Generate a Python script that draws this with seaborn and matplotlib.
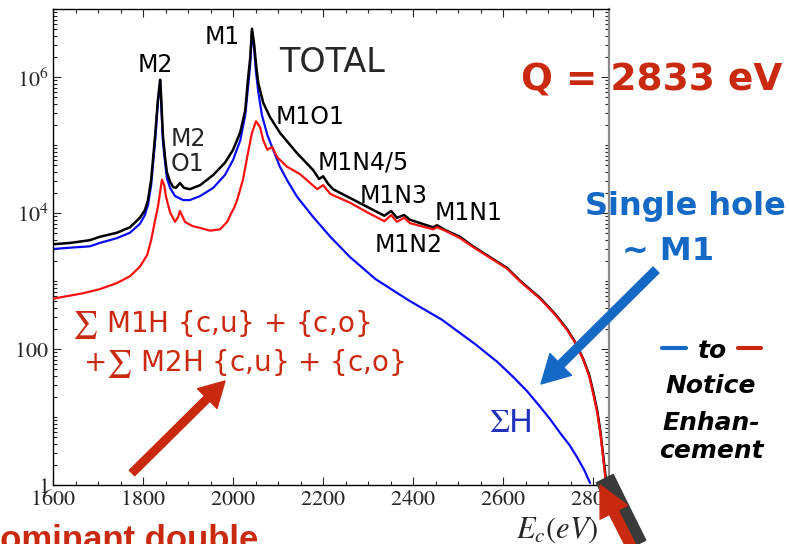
import numpy as np
import matplotlib
matplotlib.use("Agg")
import matplotlib.pyplot as plt
from matplotlib.lines import Line2D
from matplotlib.patches import FancyArrowPatch
from matplotlib.ticker import FixedLocator, FixedFormatter, MultipleLocator, LogLocator, NullFormatter
import seaborn as sns

# ---- spectrum data: E_c in eV, intensity as log10(counts) ----
energy_total = [1600, 1638, 1682, 1704, 1742, 1771, 1793, 1804, 1811, 1818, 1822, 1827, 1831, 1833,
                1836, 1838, 1840, 1842, 1844, 1849, 1853, 1860, 1867, 1873, 1882, 1891, 1904, 1927,
                1956, 1982, 2000, 2016, 2027, 2033, 2038, 2042, 2047, 2051, 2056, 2067, 2082, 2104,
                2142, 2178, 2191, 2200, 2211, 2222, 2260, 2298, 2336, 2351, 2364, 2380, 2393, 2416,
                2444, 2453, 2471, 2504, 2533, 2571, 2609, 2638, 2682, 2716, 2742, 2760, 2778, 2791,
                2800, 2809, 2816, 2822, 2827, 2831]
total_log10 = [3.54, 3.56, 3.60, 3.65, 3.71, 3.79, 3.93, 4.04, 4.19, 4.49, 4.78, 5.15, 5.49, 5.66,
               5.84, 5.96, 5.74, 5.44, 5.15, 4.81, 4.60, 4.46, 4.38, 4.37, 4.44, 4.37, 4.35, 4.41,
               4.56, 4.74, 4.93, 5.19, 5.51, 5.96, 6.28, 6.71, 6.47, 6.18, 5.91, 5.62, 5.41, 5.18,
               4.88, 4.63, 4.50, 4.54, 4.43, 4.35, 4.22, 4.09, 3.96, 4.03, 3.93, 3.97, 3.90, 3.85,
               3.79, 3.82, 3.75, 3.65, 3.51, 3.35, 3.19, 3.00, 2.75, 2.51, 2.29, 2.10, 1.85, 1.62,
               1.37, 1.09, 0.78, 0.44, 0.15, 0.00]

energy_single = [1600, 1638, 1682, 1704, 1742, 1771, 1793, 1804, 1811, 1818, 1822, 1827, 1831, 1833,
                 1836, 1838, 1840, 1842, 1844, 1849, 1853, 1860, 1871, 1889, 1904, 1927, 1956, 1982,
                 2000, 2016, 2027, 2033, 2038, 2042, 2047, 2051, 2056, 2064, 2076, 2089, 2104, 2122,
                 2142, 2178, 2216, 2260, 2316, 2389, 2464, 2538, 2587, 2622, 2653, 2682, 2704, 2727,
                 2747, 2764, 2780, 2793]
single_log10 = [3.47, 3.49, 3.51, 3.56, 3.63, 3.71, 3.84, 3.97, 4.12, 4.41, 4.71, 5.07, 5.44, 5.63,
                5.81, 5.93, 5.66, 5.37, 5.07, 4.74, 4.51, 4.37, 4.25, 4.19, 4.19, 4.25, 4.37, 4.56,
                4.78, 5.07, 5.44, 5.84, 6.18, 6.68, 6.40, 6.07, 5.78, 5.44, 5.15, 4.93, 4.68, 4.46,
                4.24, 3.94, 3.65, 3.35, 3.03, 2.72, 2.43, 2.07, 1.81, 1.59, 1.38, 1.15, 0.97, 0.76,
                0.59, 0.41, 0.22, 0.03]

energy_double = [1600, 1667, 1704, 1742, 1771, 1793, 1809, 1818, 1827, 1833, 1838, 1842, 1847, 1851,
                 1860, 1871, 1878, 1882, 1887, 1893, 1909, 1927, 1949, 1971, 1987, 1996, 2002, 2009,
                 2022, 2033, 2042, 2051, 2060, 2067, 2076, 2087, 2098, 2120, 2149, 2187, 2200, 2216,
                 2260, 2298, 2336, 2351, 2364, 2380, 2393, 2416, 2444, 2453, 2471, 2504, 2533, 2571,
                 2609, 2638, 2682, 2716, 2742, 2760, 2778, 2791, 2800, 2809, 2816, 2822, 2827, 2831]
double_log10 = [2.74, 2.82, 2.88, 2.97, 3.07, 3.21, 3.38, 3.60, 3.90, 4.09, 4.31, 4.49, 4.41, 4.24,
                4.01, 3.87, 3.94, 4.03, 3.96, 3.87, 3.81, 3.78, 3.74, 3.76, 3.87, 4.00, 4.07, 4.19,
                4.49, 4.88, 5.18, 5.35, 5.26, 5.07, 4.93, 4.97, 4.82, 4.68, 4.57, 4.35, 4.41, 4.28,
                4.15, 4.01, 3.88, 3.97, 3.87, 3.93, 3.85, 3.81, 3.76, 3.79, 3.74, 3.63, 3.50, 3.34,
                3.18, 2.99, 2.74, 2.50, 2.28, 2.09, 1.84, 1.60, 1.34, 1.06, 0.75, 0.40, 0.10, 0.00]

x_ticks = [1600, 1800, 2000, 2200, 2400, 2600, 2800]
x_tick_labels = ["$1600$", "$1800$", "$2000$", "$2200$", "$2400$", "$2600$", "$2800$"]
y_ticks = [1, 100, 1e4, 1e6]
y_tick_labels = ["$1$", "$100$", "$10^4$", "$10^6$"]

W, H = 789, 544
RED_TXT = "#c8290f"
BLUE_TXT = "#1469c4"

sns.set_style("ticks")
plt.rcParams["mathtext.fontset"] = "stix"
plt.rcParams["font.family"] = ["DejaVu Sans"]

fig = plt.figure(figsize=(W / 100, H / 100), dpi=100)
ax = fig.add_axes([53 / W, 1 - 485 / H, (609 - 53) / W, (485 - 9) / H])


def fp(px, py):
    """pixel position (top-left origin) -> figure fraction"""
    return px / W, 1 - py / H


sns.lineplot(x=energy_single, y=10 ** np.asarray(single_log10), ax=ax, color="#0a0aff", lw=1.6,
             zorder=2)
sns.lineplot(x=energy_total, y=10 ** np.asarray(total_log10), ax=ax, color="black", lw=1.8,
             zorder=3)
sns.lineplot(x=energy_double, y=10 ** np.asarray(double_log10), ax=ax, color="#ff1010", lw=1.6,
             zorder=4)

ax.set_yscale("log")
ax.set_xlim(1600, 2835)
ax.set_ylim(1, 1e7)

ax.xaxis.set_major_locator(FixedLocator(x_ticks))
ax.xaxis.set_major_formatter(FixedFormatter(x_tick_labels))
ax.xaxis.set_minor_locator(MultipleLocator(50))
ax.yaxis.set_major_locator(FixedLocator(y_ticks))
ax.yaxis.set_major_formatter(FixedFormatter(y_tick_labels))
ax.yaxis.set_minor_locator(LogLocator(base=10, subs=np.arange(1, 10), numticks=30))
ax.yaxis.set_minor_formatter(NullFormatter())

ax.tick_params(which="both", direction="in", top=True, right=True, labelsize=16, width=0.8)
ax.tick_params(which="major", length=6, pad=3)
ax.tick_params(which="minor", length=3)
for side in ["left", "bottom", "top"]:
    ax.spines[side].set_linewidth(1.0)
    ax.spines[side].set_color("black")
ax.spines["right"].set_color("#8a8a8a")
ax.spines["right"].set_linewidth(1.6)
ax.set_xlabel("")
ax.set_ylabel("")

fig.text(*fp(557, 530), "$E_c(eV)$", fontsize=22, ha="center", va="center")

# peak labels
lab = dict(fontsize=17, color="black", ha="center", va="center")
fig.text(*fp(155, 65), "M2", **lab)
fig.text(*fp(222, 37), "M1", **lab)
fig.text(*fp(332, 63), "TOTAL", fontsize=24, ha="center", va="center")
fig.text(*fp(171, 139), "M2", fontsize=17, ha="left", va="center")
fig.text(*fp(171, 164), "O1", fontsize=17, ha="left", va="center")
fig.text(*fp(310, 117), "M1O1", **lab)
fig.text(*fp(363, 163), "M1N4/5", **lab)
fig.text(*fp(394, 196), "M1N3", **lab)
fig.text(*fp(469, 213), "M1N1", **lab)
fig.text(*fp(409, 245), "M1N2", **lab)

fig.text(*fp(510, 423), r"$\Sigma$H", fontsize=23, color="#2233bb", ha="center", va="center")

fig.text(*fp(72, 332), r"$\sum$ M1H {c,u} + {c,o}", fontsize=20, color=RED_TXT,
         ha="left", va="baseline")
fig.text(*fp(83, 371), r"+$\sum$ M2H {c,u} + {c,o}", fontsize=20, color=RED_TXT,
         ha="left", va="baseline")

fig.text(*fp(652, 80), "Q = 2833 eV", fontsize=27, fontweight="bold", color=RED_TXT,
         ha="center", va="center")
fig.text(*fp(685, 215), "Single hole", fontsize=23, fontweight="bold", color=BLUE_TXT,
         ha="center", va="baseline")
fig.text(*fp(668, 260), "~ M1", fontsize=23, fontweight="bold", color=BLUE_TXT,
         ha="center", va="baseline")

note = dict(fontsize=18, fontweight="bold", fontstyle="italic", color="black",
            ha="center", va="baseline")
fig.text(*fp(712, 358), "to", **note)
fig.text(*fp(711, 393), "Notice", **note)
fig.text(*fp(711, 430), "Enhan-", **note)
fig.text(*fp(711, 458), "cement", **note)
fig.add_artist(Line2D([662 / W, 686 / W], [1 - 348 / H] * 2, transform=fig.transFigure,
                      color=BLUE_TXT, lw=3))
fig.add_artist(Line2D([738 / W, 761 / W], [1 - 348 / H] * 2, transform=fig.transFigure,
                      color=RED_TXT, lw=3))

fig.text(-25 / W, 1 - 550 / H, "Dominant double", fontsize=25, fontweight="bold",
         fontfamily="Liberation Sans", color=RED_TXT, ha="left", va="baseline")


def arrow(tail, tip, color, style, z=12):
    fig.add_artist(FancyArrowPatch(fp(*tail), fp(*tip), transform=fig.transFigure,
                                   arrowstyle=style, mutation_scale=10, color=color,
                                   shrinkA=0, shrinkB=0, zorder=z, clip_on=False))


arrow((132, 473), (225, 381), RED_TXT, "simple,head_length=1.8,head_width=2.0,tail_width=0.55")
arrow((656, 270), (541, 384), BLUE_TXT, "simple,head_length=2.0,head_width=2.2,tail_width=0.6")

fig.add_artist(Line2D([604.5 / W, 646 / W], [1 - 478 / H, 1 - 562 / H], transform=fig.transFigure,
                      color="#3a3a3a", lw=14.5, solid_capstyle="butt", zorder=10))
arrow((648, 580), (600, 485), RED_TXT, "simple,head_length=2.2,head_width=2.2,tail_width=0.7", z=11)

fig.savefig("out.png", dpi=100)
